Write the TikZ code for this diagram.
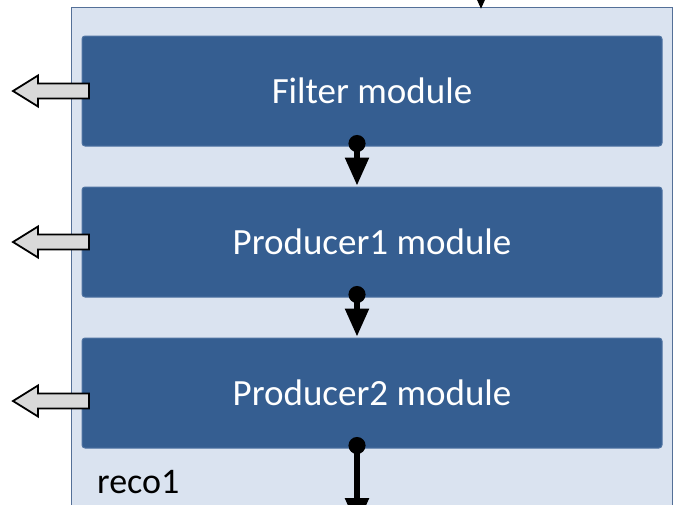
\documentclass[tikz,border=0pt]{standalone}
\usepackage{fontspec}
\setmainfont{Carlito}
\usetikzlibrary{arrows.meta}
\definecolor{contfill}{RGB}{218,227,240}
\definecolor{contdraw}{RGB}{84,112,152}
\definecolor{modfill}{RGB}{53,94,145}
\definecolor{moddraw}{RGB}{80,116,162}
\definecolor{outfill}{RGB}{217,217,217}
\begin{document}
\begin{tikzpicture}[x=1pt,y=-1pt,
  container/.style={draw=contdraw,line width=1.5pt,fill=contfill,minimum width=601pt,minimum height=552pt,inner sep=0pt},
  module/.style={draw=moddraw,line width=1pt,fill=modfill,rounded corners=3pt,minimum width=580pt,minimum height=110pt,inner sep=0pt,text=white,font=\fontsize{37}{44}\selectfont},
  conn/.style={line width=5.5pt,{Circle[length=17pt]}-{Triangle[width=23pt,length=28pt]}},
  connin/.style={line width=5.5pt,-{Triangle[width=23pt,length=28pt]}},
  outarrow/.style={draw=black,line width=1.8pt,fill=outfill,line join=miter}
]
\useasboundingbox (0,0) rectangle (674,504);
\clip (0,0) rectangle (674,504);
\node[container] (cont) at (372,283.5) {};
\node[module] (m1) at (372,91) {Filter module};
\node[module] (m2) at (372,242) {Producer1 module};
\node[module] (m3) at (372,393) {Producer2 module};
\node[anchor=base west,inner sep=0pt,font=\fontsize{36}{43}\selectfont] (lbl) at (97,493) {reco1};
\coordinate (in) at (481,-40);
\coordinate (out) at (357,526);
\draw[connin] (in) -- ([xshift=109pt,yshift=-2.5pt]cont.north);
\draw[conn] ([xshift=-15pt,yshift=11.5pt]m1.south) -- ([xshift=-15pt,yshift=1pt]m2.north);
\draw[conn] ([xshift=-15pt,yshift=11.5pt]m2.south) -- ([xshift=-15pt,yshift=1pt]m3.north);
\draw[conn] ([xshift=-15pt,yshift=11.5pt]m3.south) -- (out);
\foreach \yy in {91,242,401}{
  \draw[outarrow] (89,\yy-7.5) -- (38,\yy-7.5) -- (38,\yy-15.5) -- (13,\yy) -- (38,\yy+15.5) -- (38,\yy+7.5) -- (89,\yy+7.5) -- cycle;
}
\end{tikzpicture}
\end{document}
